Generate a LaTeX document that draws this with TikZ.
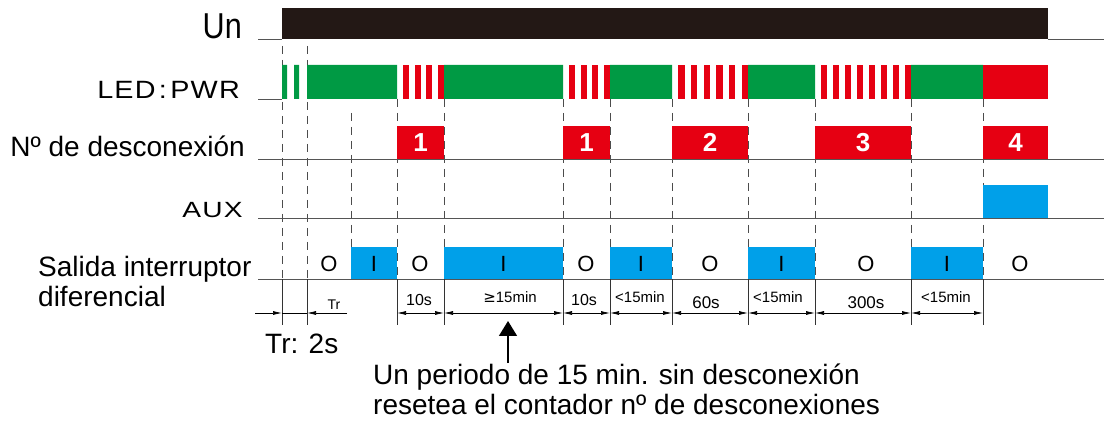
\documentclass[tikz,border=0pt]{standalone}
\usepackage{fontspec}
\usepackage{graphicx}
\setmainfont{Liberation Sans}
\newfontfamily\dejavu{DejaVu Sans}
\usetikzlibrary{arrows.meta}
\definecolor{ledgreen}{HTML}{009A44}
\definecolor{ledred}{HTML}{E60012}
\definecolor{auxblue}{HTML}{00A0E9}
\definecolor{unblack}{HTML}{231815}
\definecolor{baseln}{HTML}{555555}
\begin{document}
\begin{tikzpicture}[x=1pt,y=-1pt,
 baseline line/.style={draw=baseln, line width=0.8pt},
 guide/.style={draw=black!70, line width=0.7pt, dash pattern=on 8pt off 6pt},
 tickline/.style={draw=black!80, line width=0.7pt},
 dimline/.style={draw=black, line width=0.7pt, {Latex[length=9pt,width=4pt]}-{Latex[length=9pt,width=4pt]}},
 lbl/.style={inner sep=0pt, font=\fontsize{28}{30}\selectfont},
 dimlbl/.style={inner sep=0pt, anchor=base},
 state/.style={inner sep=0pt, font=\fontsize{22}{22}\selectfont},
 cnt/.style={inner sep=0pt, text=white, font=\bfseries\fontsize{26}{26}\selectfont},
]
\useasboundingbox (0,0) rectangle (1112,427);

% ---------- Un ----------
\fill[unblack] (282,8) rectangle (1048,39);
\draw[baseline line] (258,39) -- (282,39);
\draw[baseline line] (1048,39) -- (1104,39);
\node[lbl, anchor=base east] (lun) at (242,39) {\scalebox{0.85}[1]{\fontsize{36}{36}\selectfont Un}};

% ---------- guides ----------
\foreach \x in {282,307} \draw[guide] (\x,46) -- (\x,279);
\draw[guide] (351,113) -- (351,247);
\foreach \x in {397,444,563,610,672,748,815,911,983} \draw[guide] (\x,99) -- (\x,279);

% ---------- LED:PWR ----------
\draw[baseline line] (258,99) -- (282,99);
\fill[ledgreen] (282,65) rectangle (287,99) (294,65) rectangle (299,99)
  (307,65) rectangle (397,99) (444,65) rectangle (563,99) (610,65) rectangle (672,99)
  (748,65) rectangle (815,99) (911,65) rectangle (983,99);
\fill[ledred] (983,65) rectangle (1048,99);
\foreach \s/\e/\n in {397/444/4, 563/610/4, 672/748/6, 815/911/8} {
  \pgfmathsetmacro{\p}{(\e-\s)/\n}
  \pgfmathtruncatemacro{\m}{\n-1}
  \foreach \i in {0,...,\m} \fill[ledred] ({\s+\p*(\i+0.5)},65) rectangle ({\s+\p*(\i+1)},99);
}
\node[lbl, anchor=base east] (lled) at (240,99) {\scalebox{1.15}[1]{\fontsize{25}{25}\selectfont L\kern1pt E\kern1pt D\kern3pt:\kern3pt P\kern1pt W\kern1pt R}};

% ---------- N de desconexion ----------
\draw[baseline line] (258,159) -- (1104,159);
\foreach \a/\b/\t [count=\k] in {397/444/1,563/610/1,672/748/2,815/911/3,983/1048/4} {
  \fill[ledred] (\a,126) rectangle (\b,159);
  \node[cnt] (n\k) at ({(\a+\b)/2},142.5) {\t};
}
\node[lbl, anchor=base east] (lnum) at (245,157) {Nº de desconexión};

% ---------- AUX ----------
\draw[baseline line] (258,218) -- (1104,218);
\fill[auxblue] (983,185) rectangle (1048,218);
\node[lbl, anchor=base east] (laux) at (243,218) {\scalebox{1.28}[1]{\fontsize{22}{22}\selectfont A\kern1pt U\kern1pt X}};

% ---------- Salida ----------
\draw[baseline line] (258,279) -- (1104,279);
\foreach \a/\b [count=\k] in {351/397,444/563,610/672,748/815,911/983} {
  \fill[auxblue] (\a,247) rectangle (\b,279);
  \node[state] (i\k) at ({(\a+\b)/2},264) {I};
}
\foreach \c [count=\k] in {329,420,586,710,866,1020} \node[state] (o\k) at (\c,264) {O};
\node[lbl, anchor=base west] (lsal1) at (38,277) {Salida interruptor};
\node[lbl, anchor=base west] (lsal2) at (38,307) {diferencial};

% ---------- ticks and dimensions ----------
\foreach \x in {282,307,397,444,563,610,672,748,815,911,983} \draw[tickline] (\x,279) -- (\x,325);
\draw[line width=0.7pt, -{Latex[length=9pt,width=4pt]}] (255,313) -- (282,313);
\draw[line width=0.7pt] (282,313) -- (307,313);
\draw[line width=0.7pt, -{Latex[length=9pt,width=4pt]}] (347,313) -- (307,313);
\foreach \a/\b in {397/444,444/563,563/610,610/672,672/748,748/815,815/911,911/983}
  \draw[dimline] (\a,313) -- (\b,313);

\node[dimlbl, font=\fontsize{14}{14}\selectfont] (dtr) at (334,310) {Tr};
\node[dimlbl, font=\fontsize{16}{16}\selectfont] (d1) at (419,306) {10s};
\node[dimlbl, font=\fontsize{15}{15}\selectfont] (d2) at (510,303) {{\dejavu ≥}15min};
\node[dimlbl, font=\fontsize{16}{16}\selectfont] (d3) at (584,306) {10s};
\node[dimlbl, font=\fontsize{15}{15}\selectfont] (d4) at (640,303) {<15min};
\node[dimlbl, font=\fontsize{17}{17}\selectfont] (d5) at (706,309) {60s};
\node[dimlbl, font=\fontsize{15}{15}\selectfont] (d6) at (778,303) {<15min};
\node[dimlbl, font=\fontsize{17}{17}\selectfont] (d7) at (866,309) {300s};
\node[dimlbl, font=\fontsize{15}{15}\selectfont] (d8) at (946,303) {<15min};

% ---------- notes ----------
\node[lbl, anchor=base west] (trnote) at (265,354) {Tr: 2s};
\node[inner sep=0pt, anchor=base west, font=\fontsize{28}{30}\selectfont] (note1) at (373,385) {Un periodo de 15 min. sin desconexión};
\node[inner sep=0pt, anchor=base west, font=\fontsize{28}{30}\selectfont] (note2) at (373,415) {resetea el contador nº de desconexiones};
\coordinate (tip) at (508,321);
\draw[line width=1.5pt, -{Triangle[length=15pt,width=18pt]}] (tip |- note1.north) ++(0,-1) -- (tip);
\end{tikzpicture}
\end{document}
